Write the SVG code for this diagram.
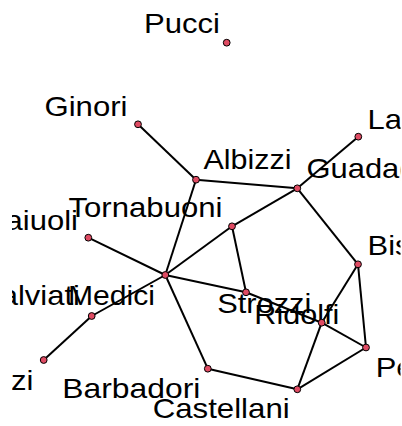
<svg xmlns="http://www.w3.org/2000/svg" width="402" height="426" viewBox="0 0 402 426">
<style>
.e{stroke:#000;stroke-width:2;fill:none}
.n{fill:#DF4B63;stroke:#000;stroke-width:1}
.t{font-family:"Liberation Sans",Arial,sans-serif;font-size:28px;fill:#000;clip-path:url(#plotclip)}
</style>
<defs>
<clipPath id="plotclip"><rect x="12" y="0" width="388.5" height="426"/></clipPath>
</defs>
<rect width="402" height="426" fill="#fff"/>
<g id="edges" class="e">
<line x1="138" y1="124.3" x2="196" y2="179.7"/>
<line x1="196" y1="179.7" x2="297.3" y2="188.3"/>
<line x1="196" y1="179.7" x2="165.3" y2="275"/>
<line x1="297.3" y1="188.3" x2="358.3" y2="136.7"/>
<line x1="297.3" y1="188.3" x2="232" y2="226.3"/>
<line x1="297.3" y1="188.3" x2="358" y2="264.3"/>
<line x1="232" y1="226.3" x2="165.3" y2="275"/>
<line x1="232" y1="226.3" x2="246" y2="292.3"/>
<line x1="165.3" y1="275" x2="246" y2="292.3"/>
<line x1="165.3" y1="275" x2="88.3" y2="237.7"/>
<line x1="165.3" y1="275" x2="91.7" y2="316"/>
<line x1="165.3" y1="275" x2="207.8" y2="368.7"/>
<line x1="91.7" y1="316" x2="43.7" y2="360"/>
<line x1="207.8" y1="368.7" x2="297.3" y2="389.3"/>
<line x1="297.3" y1="389.3" x2="366" y2="347.5"/>
<line x1="297.3" y1="389.3" x2="321.7" y2="322.7"/>
<line x1="246" y1="292.3" x2="321.7" y2="322.7"/>
<line x1="321.7" y1="322.7" x2="358" y2="264.3"/>
<line x1="321.7" y1="322.7" x2="366" y2="347.5"/>
<line x1="358" y1="264.3" x2="366" y2="347.5"/>
</g>
<g id="Pucci"><circle class="n" cx="226.7" cy="42.7" r="3.4"/><text class="t" x="144" y="33" textLength="76" lengthAdjust="spacingAndGlyphs">Pucci</text></g>
<g id="Ginori"><circle class="n" cx="138" cy="124.3" r="3.4"/><text class="t" x="44.5" y="115.5" textLength="83" lengthAdjust="spacingAndGlyphs">Ginori</text></g>
<g id="Lamberteschi"><circle class="n" cx="358.3" cy="136.7" r="3.4"/><text class="t" x="367.5" y="128.5" textLength="186" lengthAdjust="spacingAndGlyphs">Lamberteschi</text></g>
<g id="Albizzi"><circle class="n" cx="196" cy="179.7" r="3.4"/><text class="t" x="203.5" y="168.5" textLength="88" lengthAdjust="spacingAndGlyphs">Albizzi</text></g>
<g id="Guadagni"><circle class="n" cx="297.3" cy="188.3" r="3.4"/><text class="t" x="306.5" y="177.5" textLength="134" lengthAdjust="spacingAndGlyphs">Guadagni</text></g>
<g id="Bischeri"><circle class="n" cx="358" cy="264.3" r="3.4"/><text class="t" x="367.5" y="255" textLength="110" lengthAdjust="spacingAndGlyphs">Bischeri</text></g>
<g id="Tornabuoni"><circle class="n" cx="232" cy="226.3" r="3.4"/><text class="t" x="68.5" y="217" textLength="154" lengthAdjust="spacingAndGlyphs">Tornabuoni</text></g>
<g id="Acciaiuoli"><circle class="n" cx="88.3" cy="237.7" r="3.4"/><text class="t" x="-53" y="230" textLength="131" lengthAdjust="spacingAndGlyphs">Acciaiuoli</text></g>
<g id="Medici"><circle class="n" cx="165.3" cy="275" r="3.4"/><text class="t" x="68" y="305" textLength="87" lengthAdjust="spacingAndGlyphs">Medici</text></g>
<g id="Salviati"><circle class="n" cx="91.7" cy="316" r="3.4"/><text class="t" x="-20" y="305" textLength="100" lengthAdjust="spacingAndGlyphs">Salviati</text></g>
<g id="Pazzi"><circle class="n" cx="43.7" cy="360" r="3.4"/><text class="t" x="-42.5" y="390" textLength="76" lengthAdjust="spacingAndGlyphs">Pazzi</text></g>
<g id="Barbadori"><circle class="n" cx="207.8" cy="368.7" r="3.4"/><text class="t" x="62.3" y="397.7" textLength="138" lengthAdjust="spacingAndGlyphs">Barbadori</text></g>
<g id="Castellani"><circle class="n" cx="297.3" cy="389.3" r="3.4"/><text class="t" x="152.7" y="418.3" textLength="137" lengthAdjust="spacingAndGlyphs">Castellani</text></g>
<g id="Ridolfi"><circle class="n" cx="246" cy="292.3" r="3.4"/><text class="t" x="254.3" y="324.3" textLength="85" lengthAdjust="spacingAndGlyphs">Ridolfi</text></g>
<g id="Strozzi"><circle class="n" cx="321.7" cy="322.7" r="3.4"/><text class="t" x="217.3" y="313.3" textLength="94" lengthAdjust="spacingAndGlyphs">Strozzi</text></g>
<g id="Peruzzi"><circle class="n" cx="366" cy="347.5" r="3.4"/><text class="t" x="375.7" y="376.7" textLength="103" lengthAdjust="spacingAndGlyphs">Peruzzi</text></g>
</svg>
